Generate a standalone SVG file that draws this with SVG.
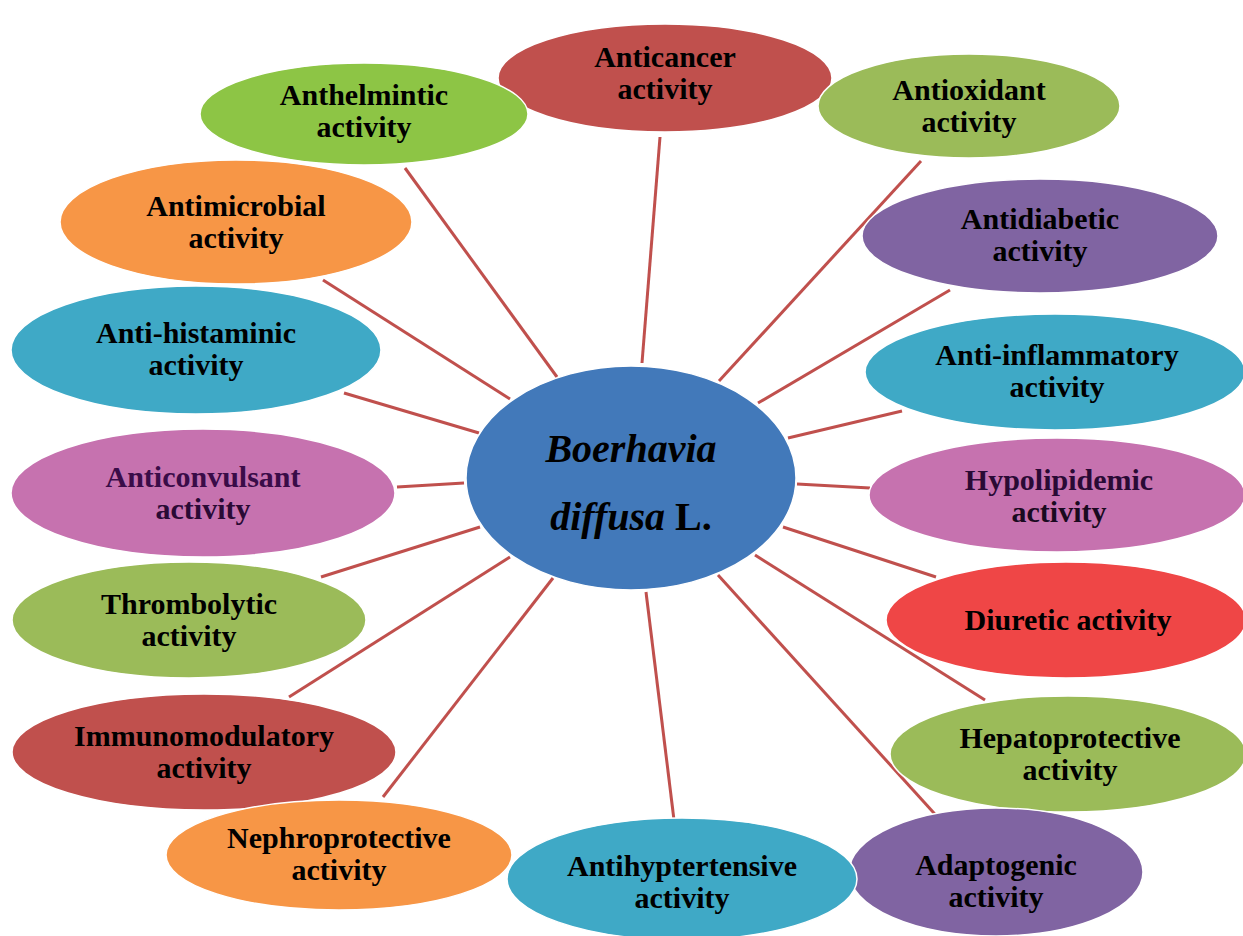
<svg xmlns="http://www.w3.org/2000/svg" width="1243" height="936" viewBox="0 0 1243 936">
<style>
.n{stroke:#ffffff;stroke-width:1.5}
.t{font-family:"Liberation Serif","Times New Roman",serif;font-weight:bold;font-size:30px;fill:#000;text-anchor:middle}
.c{font-family:"Liberation Serif","Times New Roman",serif;font-weight:bold;font-size:40px;fill:#000;text-anchor:middle}
.red{fill:#C0504D}.lime{fill:#8DC545}.olive{fill:#9BBB59}.orange{fill:#F79646}.purple{fill:#8064A2}.cyan{fill:#3FA9C6}.pink{fill:#C672AF}.bright{fill:#EF4646}.blue{fill:#4279BA}
#links line{stroke:#C0504D;stroke-width:3}
</style>
<rect width="1243" height="936" fill="#ffffff"/>
<g id="links">
<line x1="642" y1="363" x2="660" y2="137"/>
<line x1="557" y1="377" x2="405" y2="168"/>
<line x1="719" y1="381" x2="921" y2="161"/>
<line x1="510" y1="399" x2="323" y2="280"/>
<line x1="758" y1="403" x2="950" y2="290"/>
<line x1="479" y1="433" x2="344" y2="393"/>
<line x1="788" y1="438" x2="902" y2="411"/>
<line x1="464" y1="483" x2="397" y2="487"/>
<line x1="797" y1="484" x2="870" y2="488"/>
<line x1="480" y1="527" x2="321" y2="577"/>
<line x1="783" y1="527" x2="936" y2="577"/>
<line x1="510" y1="557" x2="289" y2="697"/>
<line x1="755" y1="555" x2="985" y2="700"/>
<line x1="553" y1="578" x2="383" y2="797"/>
<line x1="718" y1="575" x2="943" y2="823"/>
<line x1="646" y1="592" x2="674" y2="820"/>
</g>
<g id="center">
<ellipse class="n blue" cx="631" cy="478" rx="165" ry="112"/>
<text class="c" x="631" y="462" font-style="italic">Boerhavia</text>
<text class="c" x="631" y="530"><tspan font-style="italic">diffusa</tspan> L.</text>
</g>
<g id="anticancer">
<ellipse class="n red" cx="665" cy="78" rx="167" ry="54"/>
<text class="t" x="665" y="67">Anticancer</text>
<text class="t" x="665" y="99">activity</text>
</g>
<g id="anthelmintic">
<ellipse class="n lime" cx="364" cy="114" rx="164" ry="51"/>
<text class="t" x="364" y="105">Anthelmintic</text>
<text class="t" x="364" y="137">activity</text>
</g>
<g id="antioxidant">
<ellipse class="n olive" cx="969" cy="106" rx="151" ry="52"/>
<text class="t" x="969" y="100">Antioxidant</text>
<text class="t" x="969" y="132">activity</text>
</g>
<g id="antimicrobial">
<ellipse class="n orange" cx="236" cy="222" rx="176" ry="62"/>
<text class="t" x="236" y="216">Antimicrobial</text>
<text class="t" x="236" y="248">activity</text>
</g>
<g id="antidiabetic">
<ellipse class="n purple" cx="1040" cy="236" rx="178" ry="57"/>
<text class="t" x="1040" y="229">Antidiabetic</text>
<text class="t" x="1040" y="261">activity</text>
</g>
<g id="antihistaminic">
<ellipse class="n cyan" cx="196" cy="350" rx="185" ry="64"/>
<text class="t" x="196" y="343">Anti-histaminic</text>
<text class="t" x="196" y="375">activity</text>
</g>
<g id="antiinflammatory">
<ellipse class="n cyan" cx="1055" cy="372" rx="190" ry="58"/>
<text class="t" x="1057" y="365">Anti-inflammatory</text>
<text class="t" x="1057" y="397">activity</text>
</g>
<g id="anticonvulsant">
<ellipse class="n pink" cx="203" cy="493" rx="192" ry="64"/>
<text class="t" x="203" y="487" style="fill:#3A0C48">Anticonvulsant</text>
<text class="t" x="203" y="519" style="fill:#2A0A35">activity</text>
</g>
<g id="hypolipidemic">
<ellipse class="n pink" cx="1057" cy="495" rx="188" ry="57"/>
<text class="t" x="1059" y="490" style="fill:#2A0A35">Hypolipidemic</text>
<text class="t" x="1059" y="522" style="fill:#1A0A20">activity</text>
</g>
<g id="thrombolytic">
<ellipse class="n olive" cx="189" cy="620" rx="177" ry="58"/>
<text class="t" x="189" y="614">Thrombolytic</text>
<text class="t" x="189" y="646">activity</text>
</g>
<g id="diuretic">
<ellipse class="n bright" cx="1066" cy="620" rx="180" ry="58"/>
<text class="t" x="1068" y="630">Diuretic activity</text>
</g>
<g id="immunomodulatory">
<ellipse class="n red" cx="204" cy="752" rx="192" ry="58"/>
<text class="t" x="204" y="746">Immunomodulatory</text>
<text class="t" x="204" y="778">activity</text>
</g>
<g id="hepatoprotective">
<ellipse class="n olive" cx="1068" cy="754" rx="178" ry="58"/>
<text class="t" x="1070" y="748">Hepatoprotective</text>
<text class="t" x="1070" y="780">activity</text>
</g>
<g id="nephroprotective">
<ellipse class="n orange" cx="339" cy="855" rx="173" ry="55"/>
<text class="t" x="339" y="848">Nephroprotective</text>
<text class="t" x="339" y="880">activity</text>
</g>
<g id="adaptogenic">
<ellipse class="n purple" cx="996" cy="872" rx="147" ry="64"/>
<text class="t" x="996" y="875">Adaptogenic</text>
<text class="t" x="996" y="907">activity</text>
</g>
<g id="antihyptertensive">
<ellipse class="n cyan" cx="682" cy="879" rx="175" ry="61"/>
<text class="t" x="682" y="876">Antihyptertensive</text>
<text class="t" x="682" y="908">activity</text>
</g>
</svg>
